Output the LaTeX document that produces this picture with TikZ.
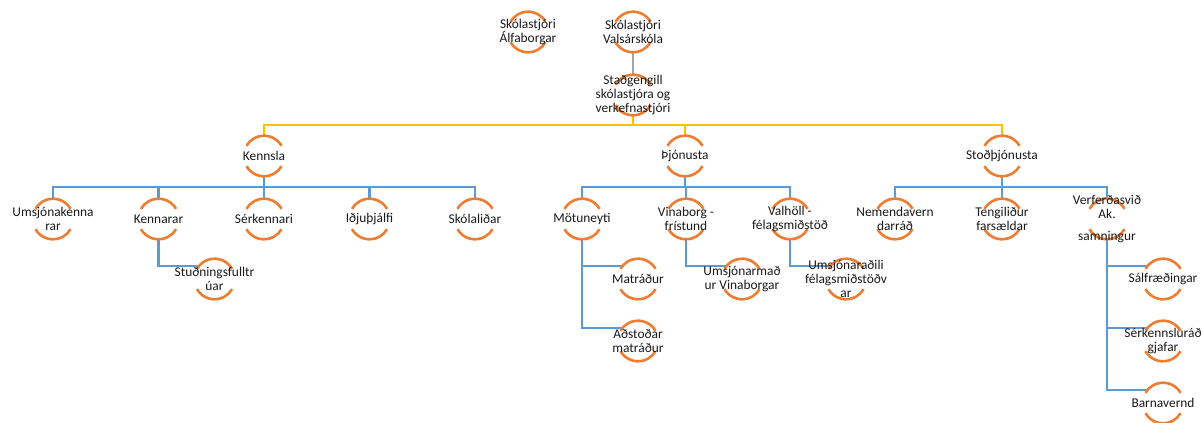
\documentclass[tikz,border=0pt]{standalone}
\usepackage{fontspec}
\setmainfont{Carlito}
\definecolor{orgc}{HTML}{ED7D31}
\definecolor{bluec}{HTML}{5B9BD5}
\definecolor{yelc}{HTML}{FFC000}
\definecolor{grayc}{HTML}{A5A5A5}
\begin{document}
\begin{tikzpicture}[x=1pt,y=1pt,
  circ/.style={circle, minimum size=40.6pt, inner sep=0pt, draw=none},
  lbl/.style={font=\fontsize{13.4}{14}\selectfont, align=center, inner sep=0pt, text=black!90},
  arcst/.style={draw=orgc, line width=2.6pt},
  blueln/.style={draw=bluec, line width=2.5pt},
  yelln/.style={draw=yelc, line width=2.5pt},
  grayln/.style={draw=grayc, line width=2.5pt}]
\useasboundingbox (0,-423) rectangle (1203,0);
% circle positions
\node[circ] (alf) at (528,-32) {};
\node[circ] (vals) at (633,-32) {};
\node[circ] (stad) at (633,-95) {};
\node[circ] (kennsla) at (264,-156) {};
\node[circ] (thjon) at (685,-156) {};
\node[circ] (stod) at (1002,-156) {};
\node[circ] (umsj) at (53,-219) {};
\node[circ] (kenn) at (158.5,-219) {};
\node[circ] (serk) at (264,-219) {};
\node[circ] (idju) at (369.5,-219) {};
\node[circ] (skol) at (475,-219) {};
\node[circ] (mot) at (582,-219) {};
\node[circ] (vina) at (686,-219) {};
\node[circ] (valh) at (790,-219) {};
\node[circ] (nem) at (895,-219) {};
\node[circ] (teng) at (1002,-219) {};
\node[circ] (verf) at (1107,-219) {};
\node[circ] (stud) at (214.5,-279) {};
\node[circ] (matr) at (638,-279) {};
\node[circ] (adst) at (638,-341) {};
\node[circ] (umvin) at (742,-279) {};
\node[circ] (umfel) at (846,-279) {};
\node[circ] (salf) at (1163,-279) {};
\node[circ] (serkr) at (1163,-341) {};
\node[circ] (barn) at (1163,-403) {};
\coordinate (yb) at (633,-125);
\coordinate (kb) at (264,-187);
\coordinate (tb) at (685,-187);
\coordinate (sb) at (1002,-187);
% connectors
\draw[grayln] (vals.south) -- (stad.north);
\draw[yelln] (stad.south) -- (yb);
\draw[yelln] (kennsla.north) |- (yb) -| (stod.north);
\draw[yelln] (thjon.north) -- (thjon.north |- yb);
\draw[blueln] (kennsla.south) -- (kb);
\draw[blueln] (umsj.north) |- (kb) -| (skol.north);
\draw[blueln] (kenn.north) -- (kenn.north |- kb);
\draw[blueln] (serk.north) -- (serk.north |- kb);
\draw[blueln] (idju.north) -- (idju.north |- kb);
\draw[blueln] (thjon.south) -- (tb);
\draw[blueln] (mot.north) |- (tb) -| (valh.north);
\draw[blueln] (vina.north) -- (vina.north |- tb);
\draw[blueln] (stod.south) -- (sb);
\draw[blueln] (nem.north) |- (sb) -| (verf.north);
\draw[blueln] (teng.north) -- (teng.north |- sb);
\draw[blueln] (kenn.south) |- (stud.140);
\draw[blueln] (mot.south) |- (matr.140);
\draw[blueln] (mot.south) |- (adst.140);
\draw[blueln] (vina.south) |- (umvin.140);
\draw[blueln] (valh.south) |- (umfel.140);
\draw[blueln] (verf.south) |- (salf.140);
\draw[blueln] (verf.south) |- (serkr.140);
\draw[blueln] (verf.south) |- (barn.140);
% arcs
\foreach \n in {alf,vals,stad,kennsla,thjon,stod,umsj,kenn,serk,idju,skol,mot,vina,valh,nem,teng,verf,stud,matr,adst,umvin,umfel,salf,serkr,barn}{
  \draw[arcst] (\n.center) ++(30:20.3) arc (30:150:20.3);
  \draw[arcst] (\n.center) ++(210:20.3) arc (210:330:20.3);
}
% labels
\node[lbl] (t-alf) at (alf.center) {Skólastjóri\\Álfaborgar};
\node[lbl] (t-vals) at (vals.center) {Skólastjóri\\Valsárskóla};
\node[lbl] (t-stad) at (stad.center) {Staðgengill\\skólastjóra og\\verkefnastjóri};
\node[lbl] (t-kennsla) at (kennsla.center) {Kennsla};
\node[lbl] (t-thjon) at (thjon.center) {Þjónusta};
\node[lbl] (t-stod) at (stod.center) {Stoðþjónusta};
\node[lbl] (t-umsj) at (umsj.center) {Umsjónakenna\\rar};
\node[lbl] (t-kenn) at (kenn.center) {Kennarar};
\node[lbl] (t-serk) at (serk.center) {Sérkennari};
\node[lbl] (t-idju) at (idju.center) {Iðjuþjálfi};
\node[lbl] (t-skol) at (skol.center) {Skólaliðar};
\node[lbl] (t-mot) at (mot.center) {Mötuneyti};
\node[lbl] (t-vina) at (vina.center) {Vinaborg -\\frístund};
\node[lbl] (t-valh) at (valh.center) {Valhöll -\\félagsmiðstöð};
\node[lbl] (t-nem) at (nem.center) {Nemendavern\\darráð};
\node[lbl] (t-teng) at (teng.center) {Tengiliður\\farsældar};
\node[lbl] (t-verf) at (verf.center) {Verferðasvið\\Ak.\\[8pt]samningur};
\node[lbl] (t-stud) at (stud.center) {Stuðningsfulltr\\úar};
\node[lbl] (t-matr) at (matr.center) {Matráður};
\node[lbl] (t-adst) at (adst.center) {Aðstoðar\\matráður};
\node[lbl] (t-umvin) at (umvin.center) {Umsjónarmað\\ur Vinaborgar};
\node[lbl] (t-umfel) at (umfel.center) {Umsjónaraðili\\félagsmiðstöðv\\ar};
\node[lbl] (t-salf) at (salf.center) {Sálfræðingar};
\node[lbl] (t-serkr) at (serkr.center) {Sérkennsluráð\\gjafar};
\node[lbl] (t-barn) at (barn.center) {Barnavernd};
\end{tikzpicture}
\end{document}
